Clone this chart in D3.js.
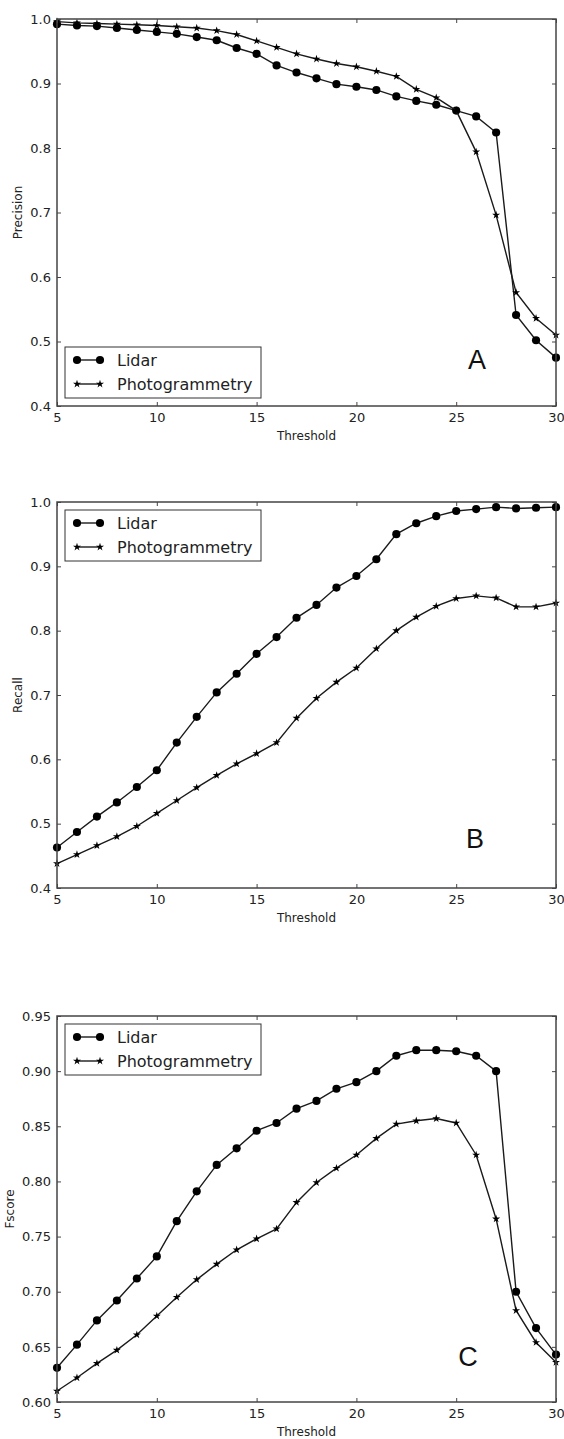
<!DOCTYPE html>
<html>
<head>
<meta charset="utf-8">
<script src="https://cdn.jsdelivr.net/npm/d3@7"></script>
<style>
  html, body { margin: 0; padding: 0; background: #fff; }
  svg { display: block; font-family: "DejaVu Sans", sans-serif; }
</style>
</head>
<body>
<svg id="chart" width="564" height="1439"></svg>
<script>
// ---------- data ----------
const thresholds = d3.range(5, 31);
const seriesNames = ["Lidar", "Photogrammetry"];
const xTicks = [5, 10, 15, 20, 25, 30];

const precisionLidar = [0.992, 0.990, 0.989, 0.986, 0.983, 0.980, 0.977, 0.972, 0.967, 0.955, 0.946, 0.928, 0.917, 0.908, 0.899, 0.895, 0.890, 0.880, 0.873, 0.867, 0.858, 0.849, 0.824, 0.541, 0.502, 0.475];
const precisionPhoto = [0.996, 0.994, 0.993, 0.992, 0.991, 0.990, 0.988, 0.986, 0.982, 0.976, 0.966, 0.956, 0.946, 0.938, 0.931, 0.926, 0.919, 0.911, 0.891, 0.878, 0.858, 0.794, 0.696, 0.576, 0.536, 0.510];

const recallLidar = [0.463, 0.487, 0.511, 0.533, 0.557, 0.583, 0.626, 0.666, 0.704, 0.733, 0.764, 0.790, 0.820, 0.840, 0.867, 0.885, 0.911, 0.950, 0.967, 0.978, 0.986, 0.989, 0.992, 0.990, 0.991, 0.992];
const recallPhoto = [0.438, 0.452, 0.466, 0.480, 0.496, 0.516, 0.536, 0.556, 0.575, 0.593, 0.609, 0.626, 0.664, 0.695, 0.720, 0.742, 0.772, 0.800, 0.821, 0.838, 0.850, 0.854, 0.851, 0.837, 0.837, 0.843];

const fscoreLidar = [0.631, 0.652, 0.674, 0.692, 0.712, 0.732, 0.764, 0.791, 0.815, 0.830, 0.846, 0.853, 0.866, 0.873, 0.884, 0.890, 0.900, 0.914, 0.919, 0.919, 0.918, 0.914, 0.900, 0.700, 0.667, 0.643];
const fscorePhoto = [0.610, 0.622, 0.635, 0.647, 0.661, 0.678, 0.695, 0.711, 0.725, 0.738, 0.748, 0.757, 0.781, 0.799, 0.812, 0.824, 0.839, 0.852, 0.855, 0.857, 0.853, 0.824, 0.766, 0.683, 0.654, 0.636];

const precisionTicks = [0.4, 0.5, 0.6, 0.7, 0.8, 0.9, 1.0];
const recallTicks = [0.4, 0.5, 0.6, 0.7, 0.8, 0.9, 1.0];
const fscoreTicks = [0.60, 0.65, 0.70, 0.75, 0.80, 0.85, 0.90, 0.95];

// ---------- layout ----------
const panels = [
  { top: 19, bottom: 406, yLabel: "Precision", yLabelX: 18, letter: "A", letterPos: [477, 360],
    domain: [0.4, 1.0], ticks: precisionTicks, fmt: ".1f", data: [precisionLidar, precisionPhoto], legend: "bottom" },
  { top: 502, bottom: 888, yLabel: "Recall", yLabelX: 18, letter: "B", letterPos: [475, 839],
    domain: [0.4, 1.0], ticks: recallTicks, fmt: ".1f", data: [recallLidar, recallPhoto], legend: "top" },
  { top: 1016, bottom: 1402, yLabel: "Fscore", yLabelX: 10, letter: "C", letterPos: [468, 1357],
    domain: [0.60, 0.95], ticks: fscoreTicks, fmt: ".2f", data: [fscoreLidar, fscorePhoto], legend: "top" }
];
const left = 57, right = 556;
const ink = "#1a1a1a";
const spine = "#444";
const textCol = "#222";

const svg = d3.select("#chart");
const x = d3.scaleLinear().domain([5, 30]).range([left, right]);

const circleSym = d3.symbol().type(d3.symbolCircle).size(52);
const starSym = d3.symbol().type(d3.symbolStar).size(20);
const markers = [circleSym, starSym];

panels.forEach(p => {
  const y = d3.scaleLinear().domain(p.domain).range([p.bottom, p.top]);
  const g = svg.append("g");

  // lines and markers
  p.data.forEach((vals, si) => {
    const pts = thresholds.map((t, i) => [t, vals[i]]);
    g.append("path")
      .datum(pts)
      .attr("fill", "none")
      .attr("stroke", ink)
      .attr("stroke-width", 1.4)
      .attr("d", d3.line().x(d => x(d[0])).y(d => y(d[1])));
    g.selectAll(null)
      .data(pts)
      .join("path")
      .attr("transform", d => `translate(${x(d[0])},${y(d[1])})`)
      .attr("d", markers[si]())
      .attr("fill", "#000");
  });

  // axes: inward ticks on all sides
  const tickLen = 4;
  const bottomAxis = d3.axisBottom(x).tickValues(xTicks).tickSizeInner(-tickLen).tickSizeOuter(0).tickPadding(7).tickFormat(d3.format("d"));
  const topAxis = d3.axisTop(x).tickValues(xTicks).tickSizeInner(-tickLen).tickSizeOuter(0).tickFormat("");
  const leftAxis = d3.axisLeft(y).tickValues(p.ticks).tickSizeInner(-tickLen).tickSizeOuter(0).tickPadding(6).tickFormat(d3.format(p.fmt));
  const rightAxis = d3.axisRight(y).tickValues(p.ticks).tickSizeInner(-tickLen).tickSizeOuter(0).tickFormat("");

  const styleAxis = sel => {
    sel.select(".domain").remove();
    sel.selectAll(".tick line").attr("stroke", spine).attr("stroke-width", 1);
    sel.selectAll(".tick text").attr("fill", textCol).attr("font-size", 13).attr("font-family", "DejaVu Sans, sans-serif");
  };
  g.append("g").attr("transform", `translate(0,${p.bottom})`).call(bottomAxis).call(styleAxis);
  g.append("g").attr("transform", `translate(0,${p.top})`).call(topAxis).call(styleAxis);
  g.append("g").attr("transform", `translate(${left},0)`).call(leftAxis).call(styleAxis);
  g.append("g").attr("transform", `translate(${right},0)`).call(rightAxis).call(styleAxis);

  // frame
  g.append("rect")
    .attr("x", left).attr("y", p.top)
    .attr("width", right - left).attr("height", p.bottom - p.top)
    .attr("fill", "none").attr("stroke", spine).attr("stroke-width", 1.5);

  // axis labels
  g.append("text")
    .attr("x", (left + right) / 2).attr("y", p.bottom + 34)
    .attr("text-anchor", "middle").attr("font-size", 12).attr("fill", textCol)
    .text("Threshold");
  g.append("text")
    .attr("transform", `translate(${p.yLabelX},${(p.top + p.bottom) / 2}) rotate(-90)`)
    .attr("text-anchor", "middle").attr("dominant-baseline", "central")
    .attr("font-size", 12).attr("fill", textCol)
    .text(p.yLabel);

  // panel letter
  g.append("text")
    .attr("x", p.letterPos[0]).attr("y", p.letterPos[1])
    .attr("text-anchor", "middle").attr("dominant-baseline", "central")
    .attr("font-size", 27).attr("font-family", "Liberation Sans, Arial, sans-serif").attr("fill", "#111")
    .text(p.letter);

  // legend
  const lx = left + 8, lw = 196, lh = 51;
  const ly = p.legend === "bottom" ? p.bottom - 8 - lh : p.top + 8;
  const lg = g.append("g");
  lg.append("rect").attr("x", lx).attr("y", ly).attr("width", lw).attr("height", lh)
    .attr("fill", "#fff").attr("stroke", "#333").attr("stroke-width", 1);
  seriesNames.forEach((name, si) => {
    const cy = ly + 13 + si * 24;
    lg.append("line").attr("x1", lx + 12).attr("x2", lx + 35).attr("y1", cy).attr("y2", cy)
      .attr("stroke", ink).attr("stroke-width", 1.4);
    [lx + 12, lx + 35].forEach(mx => {
      lg.append("path").attr("transform", `translate(${mx},${cy})`).attr("d", markers[si]()).attr("fill", "#000");
    });
    lg.append("text").attr("x", lx + 52).attr("y", cy)
      .attr("dominant-baseline", "central").attr("font-size", 16).attr("fill", textCol)
      .text(name);
  });
});
</script>
</body>
</html>
